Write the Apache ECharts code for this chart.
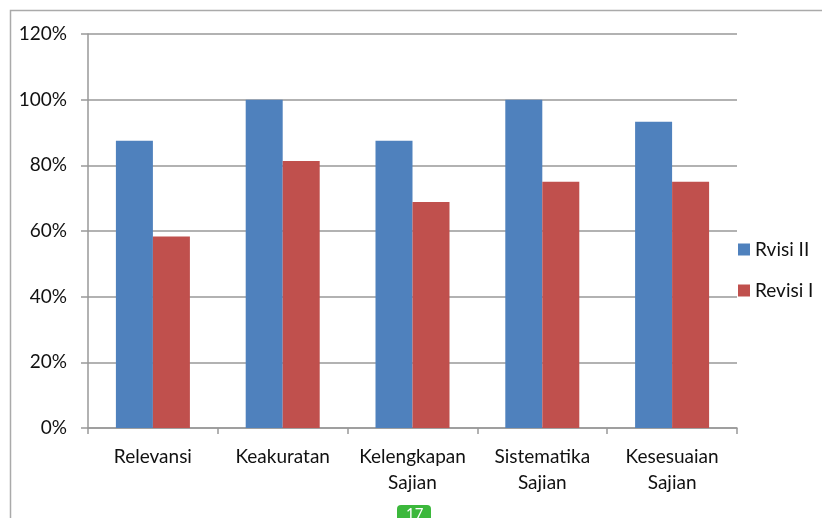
<!DOCTYPE html>
<html>
<head>
<meta charset="UTF-8">
<script src="https://cdn.jsdelivr.net/npm/echarts@6/dist/echarts.min.js"></script>
<style>
html, body { margin: 0; padding: 0; background: #fff; }
#main { width: 822px; height: 518px; }
</style>
</head>
<body>
<div id="main"></div>
<script>
// data
var categories = ['Relevansi', 'Keakuratan', 'Kelengkapan\nSajian', 'Sistematika\nSajian', 'Kesesuaian\nSajian'];
var revisi2 = [87.5, 100, 87.5, 100, 93.3];
var revisi1 = [58.3, 81.3, 68.8, 75, 75];
var seriesNames = ['Rvisi II', 'Revisi I'];

var myChart = echarts.init(document.getElementById('main'));
var font = 'Lato, "Open Sans", sans-serif';

var option = {
    animation: false,
    textStyle: { fontFamily: font },
    graphic: [
        // outer frame of the picture
        { type: 'polyline', shape: { points: [[10.5, 518], [10.5, 10.5], [822, 10.5]] },
          style: { stroke: '#aaaaaa', fill: null, lineWidth: 1.5 } },
        { type: 'rect', shape: { x: 397, y: 505, width: 34, height: 20, r: 4 },
          style: { fill: '#3cb83c' } },
        { type: 'text', left: 406, top: 507,
          style: { text: '17', fill: '#ffffff', font: '15px ' + font } }
    ],
    legend: {
        orient: 'vertical',
        left: 733,
        top: 235,
        itemWidth: 12,
        itemHeight: 12,
        itemGap: 22,
        icon: 'rect',
        textStyle: { fontSize: 19, color: '#111', fontFamily: font },
        data: seriesNames
    },
    grid: {
        left: 88,
        right: 85,
        top: 34,
        bottom: 90,
        containLabel: false
    },
    xAxis: {
        type: 'category',
        data: categories,
        axisLine: { lineStyle: { color: '#999999', width: 1.5 } },
        axisTick: { show: true, length: 6, alignWithLabel: false, lineStyle: { color: '#999999', width: 1.5 } },
        axisLabel: { fontSize: 19, color: '#111', lineHeight: 26, margin: 16, interval: 0, fontFamily: font }
    },
    yAxis: {
        type: 'value',
        min: 0,
        max: 120,
        interval: 20,
        axisLine: { show: true, lineStyle: { color: '#999999', width: 1.5 } },
        axisTick: { show: true, length: 7, lineStyle: { color: '#999999', width: 1.5 } },
        splitLine: { lineStyle: { color: '#999999', width: 1.5 } },
        axisLabel: { formatter: '{value}%', fontSize: 19, color: '#111', margin: 21, fontFamily: font }
    },
    series: [
        {
            name: seriesNames[0],
            type: 'bar',
            data: revisi2,
            barWidth: 37,
            barGap: '0%',
            itemStyle: { color: '#4f81bd' }
        },
        {
            name: seriesNames[1],
            type: 'bar',
            data: revisi1,
            barWidth: 37,
            itemStyle: { color: '#c0504d' }
        }
    ]
};

myChart.setOption(option);
</script>
</body>
</html>
